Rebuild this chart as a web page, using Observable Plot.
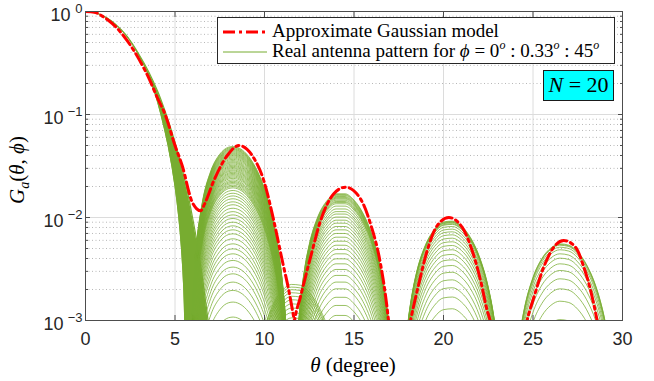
<!DOCTYPE html>
<html><head><meta charset="utf-8">
<script src="https://cdn.jsdelivr.net/npm/d3@7"></script>
<script src="https://cdn.jsdelivr.net/npm/@observablehq/plot@0.6"></script>
<style>
body{margin:0;background:#fff;}
#wrap{position:relative;width:654px;height:381px;overflow:hidden;}
.serif{font-family:"Liberation Serif","DejaVu Serif",serif;color:#000;position:absolute;white-space:nowrap;}
.serif i{font-style:italic;}
#legend{position:absolute;left:217px;top:17px;width:398px;height:47px;box-sizing:border-box;border:1px solid #262626;background:#fff;}
.lrow{position:absolute;left:0;height:20px;width:396px;}
.lrow svg{position:absolute;left:4px;top:0;}
.lrow span{position:absolute;left:54px;top:-2px;font-size:19px;line-height:22px;}
sup{font-size:12px;vertical-align:0;position:relative;top:-8px;}
#nbox{position:absolute;left:543px;top:70px;width:71px;height:31px;box-sizing:border-box;border:1.5px solid #1a1a1a;background:#00ffff;text-align:center;font-size:22px;line-height:28px;}
</style></head><body>
<div id="wrap"></div>
<script>
// ---------- data ----------
const xTicks = [0, 5, 10, 15, 20, 25, 30];
const xGrid = [5, 10, 15, 20, 25];
const yTicks = [1, 0.1, 0.01, 0.001];
const yTickExp = ["0", "\u22121", "\u22122", "\u22123"];
const yGridMajor = [0.1, 0.01];
const yMinor = [0.002,0.003,0.004,0.005,0.006,0.007,0.008,0.009,
                0.02,0.03,0.04,0.05,0.06,0.07,0.08,0.09,
                0.2,0.3,0.4,0.5,0.6,0.7,0.8,0.9];

// Approximate Gaussian model (red dash-dot), one segment per lobe
const redTheta = [0,0.5,1.0,1.5,2.0,2.5,3.0,3.5,4.0,4.47,5.0,5.40,5.96,6.2,6.42,6.65,7.17,7.92,8.57,9.31,9.96,10.52,10.99,11.36,11.64,11.75,
                  11.6,11.68,12.0,12.57,13.13,13.87,14.53,15.36,15.92,16.48,16.82,16.93,17.0,
                  18.05,18.16,18.62,19.09,19.65,20.3,21.04,21.6,22.07,22.44,22.6,22.7,
                  24.55,24.67,25.05,25.6,26.16,26.72,27.37,27.84,28.31,28.58,28.68];
const redG = [1,0.985,0.887,0.764,0.619,0.473,0.341,0.233,0.147,0.098,0.050,0.032,0.0141,0.0122,0.0116,0.0135,0.0228,0.040,0.050,0.040,0.0228,0.0093,0.00383,0.00195,0.00105,0.0008,
              0.0008,0.001,0.00168,0.0041,0.0093,0.017,0.0197,0.0152,0.0087,0.00355,0.00146,0.001,0.0008,
              0.0008,0.001,0.00227,0.00478,0.00836,0.0100,0.00805,0.00478,0.00245,0.00125,0.001,0.0008,
              0.0008,0.001,0.00168,0.0033,0.00515,0.00598,0.00515,0.0033,0.00168,0.001,0.0008];
const redSeg = [0,0,0,0,0,0,0,0,0,0,0,0,0,0,0,0,0,0,0,0,0,0,0,0,0,0,
                1,1,1,1,1,1,1,1,1,1,1,1,1,
                2,2,2,2,2,2,2,2,2,2,2,2,
                3,3,3,3,3,3,3,3,3,3,3];

// Main lobe band of the real pattern (phi = 0 edge and phi = 45 edge)
const mainG     = [1, 0.994, 0.975, 0.945, 0.904, 0.795, 0.66, 0.37, 0.17, 0.1, 0.05, 0.02, 0.01, 0.005, 0.002, 0.001];
const mainLeft  = [0, 0.25, 0.5, 0.75, 1.0, 1.5, 2.0, 3.0, 3.83, 4.21, 4.61, 5.0, 5.21, 5.36, 5.49, 5.54];
const mainRight = [0, 0.25, 0.5, 0.75, 1.0, 1.5, 2.02, 3.04, 4.02, 4.51, 5.05, 5.63, 5.98, 6.29, 6.62, 6.85];

// Side-lobe shapes (outer curve) and the peak of every nested curve
const lobe2Theta = [5.76,5.8,5.9,6.0,6.1,6.2,6.5,7.0,7.5,8.0,8.25,8.5,9.0,9.5,10.0,10.5,10.75,11.0,11.15,11.3,11.45,11.5];
const lobe2Shape = [1.3e-5,1.1e-4,7.4e-4,1.87e-3,3.46e-3,5.43e-3,0.0130,0.0278,0.0404,0.0473,0.0480,0.0470,0.0406,0.0301,0.0187,0.00879,0.00506,0.00233,0.00118,4.4e-4,5.8e-5,1.0e-5];
const lobe2Peaks = [0.00108,0.00151,0.00196,0.00236,0.00284,0.00330,0.00383,0.00444,0.00496,0.00555,0.00621,0.00694,0.00759,0.00830,0.00901,0.00978,0.0106,0.0114,0.0123,0.0133,0.0142,0.0152,0.0162,0.0172,0.0183,0.0194,0.0200,0.0206,0.0213,0.0219,0.0225,0.0232,0.0240,0.0247,0.0254,0.0261,0.0268,0.0275,0.0283,0.0290,0.0298,0.0306,0.0314,0.0322,0.0331,0.0340,0.0348,0.0357,0.0367,0.0377,0.0387,0.0397,0.0406,0.0415,0.0424,0.0434,0.0444,0.0454,0.0462,0.0471,0.0480,0.0489];

const lobe3Theta = [11.6,11.7,11.8,12.0,12.25,12.5,13.0,13.5,14.0,14.5,15.0,15.5,16.0,16.5,16.75,17.0,17.1,17.2,17.4];
const lobe3Shape = [2.98e-5,1.95e-4,4.97e-4,1.47e-3,3.26e-3,5.48e-3,0.0104,0.01466,0.01703,0.01702,0.01478,0.01104,0.00681,0.00311,0.00172,7.17e-4,4.36e-4,2.25e-4,1.1e-5];
const lobe3Peaks = [0.00112,0.00140,0.00168,0.00203,0.00236,0.00274,0.00313,0.00355,0.00397,0.00444,0.00489,0.00538,0.00589,0.00644,0.00700,0.00759,0.00818,0.00881,0.00942,0.0101,0.0108,0.0114,0.0121,0.0129,0.0136,0.0140,0.0143,0.0147,0.0151,0.0154,0.0157,0.0160,0.0164,0.0167,0.0170];

const lobe4Theta = [17.6,17.8,18.0,18.25,18.5,19.0,19.5,20.0,20.5,21.0,21.5,22.0,22.5,22.75,23.0,23.2,23.4];
const lobe4Shape = [6.6e-5,3.71e-4,8.97e-4,1.81e-3,2.93e-3,5.40e-3,7.60e-3,8.96e-3,9.14e-3,8.18e-3,6.36e-3,4.15e-3,2.09e-3,1.26e-3,6.2e-4,2.67e-4,5.9e-5];
const lobe4Peaks = [0.00130,0.00169,0.00208,0.00248,0.00294,0.00342,0.00388,0.00438,0.00486,0.00535,0.00581,0.00630,0.00679,0.00726,0.00771,0.00818,0.00857,0.00870,0.00889,0.00900,0.00912,0.00923];

const lobe5Theta = [23.8,24.0,24.25,24.5,25.0,25.5,26.0,26.5,27.0,27.5,28.0,28.5,28.75,29.0,29.25,29.5,29.8];
const lobe5Shape = [8.8e-5,3.1e-4,7.55e-4,1.35e-3,2.80e-3,4.28e-3,5.40e-3,5.92e-3,5.75e-3,4.94e-3,3.70e-3,2.33e-3,1.68e-3,1.11e-3,6.36e-4,2.84e-4,4.6e-5];
const lobe5Peaks = [0.00102,0.00154,0.00203,0.00254,0.00306,0.00355,0.00403,0.00444,0.00486,0.00515,0.00538,0.00547,0.00555];

const smallTheta = [9.0,9.5,10.0,10.5,11.0,11.5,12.0,12.5,13.0,13.5,14.0,14.5,15.0];
const smallShape = [8.0e-5,3.57e-4,8.6e-4,1.47e-3,2.0e-3,2.28e-3,2.24e-3,1.91e-3,1.42e-3,9.1e-4,4.9e-4,2.1e-4,6.4e-5];
const smallPeaks = [0.00106,0.00119,0.00132,0.00145,0.00159,0.00172,0.00186,0.00199,0.00211,0.00224];

// ---------- tables for Plot ----------
const GREEN = "#77AC30";
function archRows(key, theta, shape, peaks) {
  const top = d3.max(shape);
  return peaks.flatMap((p, i) => theta.map((t, j) => ({theta: t, G: shape[j] * p / top, id: key + i})));
}
const arches = [
  ...archRows("a", lobe2Theta, lobe2Shape, lobe2Peaks),
  ...archRows("b", lobe3Theta, lobe3Shape, lobe3Peaks),
  ...archRows("c", lobe4Theta, lobe4Shape, lobe4Peaks),
  ...archRows("d", lobe5Theta, lobe5Shape, lobe5Peaks),
  ...archRows("e", smallTheta, smallShape, smallPeaks)
];
const band = mainG.map((g, i) => ({G: g, left: mainLeft[i], right: mainRight[i]}));
const red = redTheta.map((t, i) => ({theta: t, G: redG[i], seg: redSeg[i]}));
const yLab = yTicks.map((v, i) => ({v, e: yTickExp[i]}));

const chart = Plot.plot({
  width: 654, height: 381,
  marginLeft: 85, marginRight: 32, marginTop: 11, marginBottom: 61,
  x: {domain: [0, 30]},
  y: {type: "log", domain: [0.001, 1]},
  style: {fontFamily: "'Liberation Sans', Arial, sans-serif", fontSize: "18px", color: "#262626", background: "#fff"},
  marks: [
    Plot.gridY({ticks: yMinor, stroke: "#b8b8b8", strokeOpacity: 1, strokeDasharray: "1,2.5"}),
    Plot.gridY({ticks: yGridMajor, stroke: "#dcdcdc", strokeOpacity: 1}),
    Plot.gridX({ticks: xGrid, stroke: "#dcdcdc", strokeOpacity: 1}),
    Plot.areaX(band, {y: "G", x1: "left", x2: "right", fill: GREEN, curve: "monotone-y", clip: true}),
    Plot.line(band, {x: "left", y: "G", stroke: GREEN, strokeWidth: 1, curve: "monotone-y", clip: true}),
    Plot.line(band, {x: "right", y: "G", stroke: GREEN, strokeWidth: 1.2, curve: "monotone-y", clip: true}),
    Plot.line(arches, {x: "theta", y: "G", z: "id", stroke: GREEN, strokeWidth: 0.75, curve: "monotone-x", clip: true}),
    Plot.line(red, {x: "theta", y: "G", z: "seg", stroke: "#ff0000", strokeWidth: 3, strokeDasharray: "12,4,3,4", curve: "monotone-x", clip: true}),
    Plot.frame({stroke: "#4d4d4d"}),
    Plot.axisX({ticks: xTicks, tickSize: 0, tickPadding: 12, fontSize: 18, tickFormat: d => String(d), label: null}),
    Plot.axisX({ticks: xTicks, anchor: "bottom", tickSize: -5, tickFormat: () => "", label: null, stroke: "#4d4d4d"}),
    Plot.axisX({ticks: xTicks, anchor: "top", tickSize: -5, tickFormat: () => "", label: null, stroke: "#4d4d4d"}),
    Plot.axisY({ticks: yTicks, anchor: "left", tickSize: -5, tickFormat: () => "", label: null, stroke: "#4d4d4d"}),
    Plot.axisY({ticks: yTicks, anchor: "right", tickSize: -5, tickFormat: () => "", label: null, stroke: "#4d4d4d"}),
    Plot.axisY({ticks: yMinor, anchor: "left", tickSize: -3, tickFormat: () => "", label: null, stroke: "#4d4d4d"}),
    Plot.axisY({ticks: yMinor, anchor: "right", tickSize: -3, tickFormat: () => "", label: null, stroke: "#4d4d4d"}),
    Plot.text(yLab.filter(d => d.e.length === 1), {y: "v", text: () => "10", frameAnchor: "left", textAnchor: "end", dx: -15, dy: 4, fontSize: 18, fill: "#262626"}),
    Plot.text(yLab.filter(d => d.e.length > 1), {y: "v", text: () => "10", frameAnchor: "left", textAnchor: "end", dx: -22, dy: 4, fontSize: 18, fill: "#262626"}),
    Plot.text(yLab, {y: "v", text: "e", frameAnchor: "left", textAnchor: "end", dx: -3, dy: -3, fontSize: 13, fill: "#262626"})
  ]
});
const wrap = document.getElementById("wrap");
wrap.appendChild(chart);

// ---------- text overlays ----------
wrap.insertAdjacentHTML("beforeend", `
<div id="legend">
  <div class="lrow" style="top:4px"><svg width="46" height="20"><line x1="1" y1="10" x2="45" y2="10" stroke="#ff0000" stroke-width="3" stroke-dasharray="12,4,3,4"/></svg>
    <span class="serif" style="position:absolute">Approximate Gaussian model</span></div>
  <div class="lrow" style="top:24px"><svg width="46" height="20"><line x1="1" y1="10" x2="45" y2="10" stroke="${GREEN}" stroke-width="1"/></svg>
    <span class="serif" style="position:absolute">Real antenna pattern for <i>ϕ</i> = 0<sup><i>o</i></sup> : 0.33<sup><i>o</i></sup> : 45<sup><i>o</i></sup></span></div>
</div>
<div id="nbox" class="serif"><i>N</i> = 20</div>
<div class="serif" style="left:353px;top:353px;transform:translateX(-50%);font-size:21px;line-height:24px;"><i>θ</i> (degree)</div>
<div class="serif" style="left:21px;top:170px;transform:translate(-50%,-50%) rotate(-90deg);font-size:21px;line-height:24px;"><i>G</i><sub style="font-size:14px"><i>a</i></sub>(<i>θ</i>, <i>ϕ</i>)</div>
`);
</script>
</body></html>
